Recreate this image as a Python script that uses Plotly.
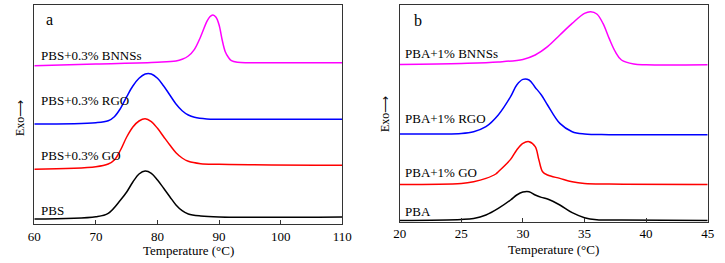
import plotly.graph_objects as go

# ---------- Panel a (PBS) ----------
a_T_pbs = [60, 70, 72, 74, 75, 76, 77, 78, 79, 80, 81, 82, 83, 84, 85, 87, 90, 110]
a_pbs = [5, 7.3, 10.7, 24, 32, 42, 50, 53, 50.7, 44, 35.7, 27.3, 19, 13.3, 10, 8, 7, 7]

a_T_go = [60, 70, 72, 73, 74, 75, 76, 77, 78, 79, 80, 81, 82, 83, 84, 85, 87, 90, 110]
a_go = [54.7, 57.3, 60, 64, 74, 87, 97, 103, 105.3, 102.3, 95.7, 87.3, 79, 71.3, 66, 62.7, 60.3, 59.7, 58.7]

a_T_rgo = [60, 70, 72, 73, 74, 75, 76, 77, 78, 79, 80, 81, 82, 83, 84, 85, 86, 88, 90, 110]
a_rgo = [100, 101.3, 103.3, 107.3, 115.7, 127.3, 138, 145.7, 150, 150, 145.7, 138, 129, 120, 113.3, 109, 106.7, 105, 104.7, 104.7]

a_T_bn = [60, 70, 80, 83, 84, 85, 86, 87, 88, 88.5, 89, 89.5, 90, 90.5, 91, 91.5, 92, 93, 95, 110]
a_bn = [158.3, 160, 161.7, 163, 164.7, 168, 174.7, 187.3, 202.3, 207.3, 209, 206.7, 199, 184, 172.3, 166.7, 163.3, 161.7, 161.3, 161.3]

a_labels = ["PBS", "PBS+0.3% GO", "PBS+0.3% RGO", "PBS+0.3% BNNSs"]
a_label_y = [13.3, 68.3, 123.3, 169]
a_ticks = [60, 70, 80, 90, 100, 110]

# ---------- Panel b (PBA) ----------
b_T_pba = [20, 25, 26, 27, 28, 29, 29.5, 30, 30.5, 31, 31.5, 32, 33, 34, 35, 36, 38, 45]
b_pba = [1.3, 2.3, 3.3, 6.7, 13.3, 21.7, 26.7, 29.7, 30, 26.7, 24.3, 22.7, 16.7, 9, 4, 2, 1.7, 1.3]

b_T_go = [20, 25, 26, 27, 27.8, 28, 29, 29.5, 30, 30.5, 31, 31.3, 31.6, 32, 33, 34, 35, 37, 45]
b_go = [37.3, 38.3, 40, 43.3, 47.7, 50, 62.3, 71.7, 78.3, 80, 75, 61.7, 50, 46.7, 43.3, 40, 38.3, 37.7, 37.3]

b_T_rgo = [20, 25, 26, 27, 28, 29, 29.5, 30, 30.5, 31, 31.5, 32, 33, 34, 35, 37, 45]
b_rgo = [87.7, 88.3, 90, 95, 106.7, 125, 136.7, 142.3, 141.7, 134.3, 126.7, 116.7, 98.3, 90, 87.7, 87, 87]

b_T_bn = [20, 25, 28, 30, 31, 32, 33, 34, 35, 35.5, 36, 36.5, 37, 37.5, 38, 39, 40, 45]
b_bn = [157.3, 158.3, 159.7, 162.3, 166.7, 175, 186.7, 198.3, 208.3, 210, 207.7, 198.3, 183.3, 170, 161.7, 157.7, 157, 157]

b_labels = ["PBA", "PBA+1% GO", "PBA+1% RGO", "PBA+1% BNNSs"]
b_label_y = [10, 49.3, 103.3, 168.3]
b_ticks = [20, 25, 30, 35, 40, 45]

colors = ["black", "#ff0000", "#0000ff", "#ff00ff"]
FONT = "Liberation Serif"

W, H = 725, 263
ML, MR, MT, MB = 34, 17, 5, 39
PW, PH = W - ML - MR, H - MT - MB

def px_x(p):
    return (p - ML) / PW

def px_y(p):
    return 1 - (p - MT) / PH

fig = go.Figure()

a_series = [(a_T_pbs, a_pbs), (a_T_go, a_go), (a_T_rgo, a_rgo), (a_T_bn, a_bn)]
b_series = [(b_T_pba, b_pba), (b_T_go, b_go), (b_T_rgo, b_rgo), (b_T_bn, b_bn)]

for (x, y), c in zip(a_series, colors):
    fig.add_trace(go.Scatter(x=x, y=y, mode="lines", line=dict(color=c, width=1.5, shape="spline", smoothing=1.0),
                             xaxis="x", yaxis="y", showlegend=False, hoverinfo="skip"))
for (x, y), c in zip(b_series, colors):
    fig.add_trace(go.Scatter(x=x, y=y, mode="lines", line=dict(color=c, width=1.5, shape="spline", smoothing=1.0),
                             xaxis="x2", yaxis="y2", showlegend=False, hoverinfo="skip"))

ann = []
for t, yv in zip(a_labels, a_label_y):
    ann.append(dict(x=60.8, y=yv, xref="x", yref="y", text=t, showarrow=False, xanchor="left", yanchor="middle",
                    font=dict(family=FONT, size=13, color="black")))
for t, yv in zip(b_labels, b_label_y):
    ann.append(dict(x=20.24, y=yv, xref="x2", yref="y2", text=t, showarrow=False, xanchor="left", yanchor="middle",
                    font=dict(family=FONT, size=13, color="black")))
ann.append(dict(x=61.6, y=205, xref="x", yref="y", text="a", showarrow=False, xanchor="left", yanchor="middle",
                font=dict(family=FONT, size=16, color="black")))
ann.append(dict(x=21.0, y=201, xref="x2", yref="y2", text="b", showarrow=False, xanchor="left", yanchor="middle",
                font=dict(family=FONT, size=16, color="black")))
ann.append(dict(x=px_x(20), y=px_y(118), xref="paper", yref="paper", text="Exo⟶", textangle=-90, showarrow=False,
                xanchor="center", yanchor="middle", font=dict(family=FONT, size=12, color="black")))
ann.append(dict(x=px_x(385), y=px_y(114), xref="paper", yref="paper", text="Exo⟶", textangle=-90, showarrow=False,
                xanchor="center", yanchor="middle", font=dict(family=FONT, size=12, color="black")))
ann.append(dict(x=px_x(188), y=px_y(250), xref="paper", yref="paper", text="Temperature (°C)", showarrow=False,
                xanchor="center", yanchor="middle", font=dict(family=FONT, size=13, color="black")))
ann.append(dict(x=px_x(553), y=px_y(249), xref="paper", yref="paper", text="Temperature (°C)", showarrow=False,
                xanchor="center", yanchor="middle", font=dict(family=FONT, size=13, color="black")))

axis_common = dict(showline=True, mirror=True, linecolor="#333333", linewidth=1, showgrid=False, zeroline=False,
                   automargin=False, ticks="inside", ticklen=4, tickcolor="#333333",
                   tickfont=dict(family=FONT, size=13, color="black"))
yaxis_common = dict(showline=True, mirror=True, linecolor="#333333", linewidth=1, showgrid=False, zeroline=False,
                    automargin=False, showticklabels=False, ticks="")

fig.update_layout(
    width=W, height=H,
    margin=dict(l=ML, r=MR, t=MT, b=MB, pad=0),
    paper_bgcolor="white", plot_bgcolor="white",
    annotations=ann,
    xaxis=dict(domain=[px_x(34.3), px_x(342.3)], range=[60, 110], tickvals=a_ticks, anchor="y", **axis_common),
    yaxis=dict(domain=[px_y(224), px_y(5)], range=[0, 219], anchor="x", **yaxis_common),
    xaxis2=dict(domain=[px_x(399.7), px_x(707.7)], range=[20, 45], tickvals=b_ticks, anchor="y2", **axis_common),
    yaxis2=dict(domain=[px_y(221.7), px_y(5)], range=[0, 216.7], anchor="x2", **yaxis_common),
)

fig.write_html(
    "out.html",
    config={"displayModeBar": False},
    post_script="document.body.style.margin='0';document.body.style.overflow='hidden';",
)
